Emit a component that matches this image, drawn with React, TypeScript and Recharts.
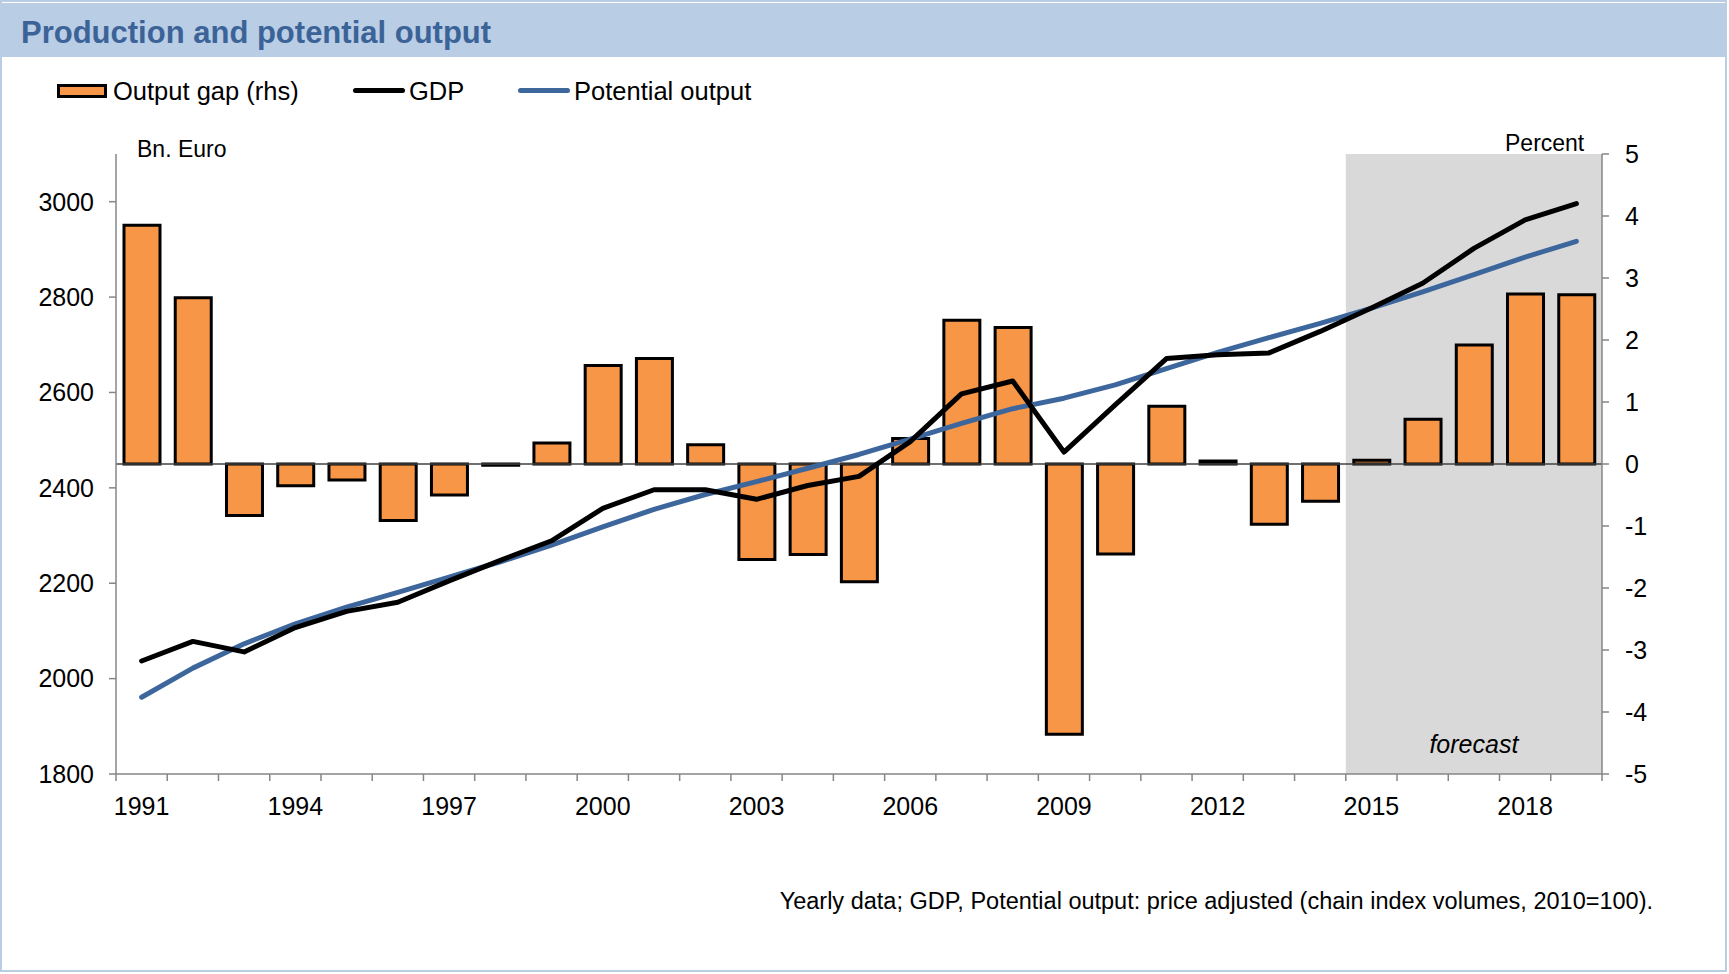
import React from "react";
import {
  Bar,
  ComposedChart,
  Label,
  Line,
  ReferenceArea,
  ReferenceLine,
  XAxis,
  YAxis,
} from "recharts";

// categories
const years = [
  "1991", "1992", "1993", "1994", "1995", "1996", "1997", "1998", "1999", "2000",
  "2001", "2002", "2003", "2004", "2005", "2006", "2007", "2008", "2009", "2010",
  "2011", "2012", "2013", "2014", "2015", "2016", "2017", "2018", "2019",
];
const labelYears = ["1991", "1994", "1997", "2000", "2003", "2006", "2009", "2012", "2015", "2018"];

// output gap, percent (rhs)
const outputGap = [
  3.85, 2.68, -0.83, -0.35, -0.26, -0.91, -0.5, -0.02, 0.34, 1.59,
  1.7, 0.31, -1.54, -1.46, -1.9, 0.41, 2.32, 2.2, -4.36, -1.45,
  0.93, 0.05, -0.97, -0.6, 0.06, 0.72, 1.92, 2.74, 2.73,
];
// GDP, bn euro
const gdp = [
  2037, 2078, 2056, 2107, 2141, 2160, 2205, 2248, 2289, 2357,
  2396, 2396, 2376, 2405, 2424, 2497, 2597, 2624, 2475, 2574,
  2671, 2679, 2683, 2728, 2777, 2829, 2902, 2962, 2996,
];
// potential output, bn euro
const potential = [
  1961, 2022, 2073, 2115, 2150, 2181, 2213, 2245, 2280, 2318,
  2355, 2386, 2413, 2441, 2470, 2502, 2535, 2566, 2588, 2616,
  2650, 2684, 2715, 2745, 2777, 2811, 2847, 2884, 2917,
];

const leftTicks = [1800, 2000, 2200, 2400, 2600, 2800, 3000];
const rightTicks = [-5, -4, -3, -2, -1, 0, 1, 2, 3, 4, 5];
const forecastFrom = "2015";
const forecastTo = "2019";

const names = {
  gap: "Output gap (rhs)",
  gdp: "GDP",
  potential: "Potential output",
};

const data = years.map((year, i) => ({
  year,
  gap: outputGap[i],
  gdp: gdp[i],
  potential: potential[i],
}));

const W = 1729;
const H = 974;
const PLOT_LEFT = 116;
const PLOT_RIGHT = 1602;
const PLOT_TOP = 154;
const PLOT_BOTTOM = 774;
const AXIS_W = 100;
const XAXIS_H = 60;
const TICK_SIZE = 7;
const X_TICK_MARGIN = 16;

const FONT = '"Liberation Sans", Arial, sans-serif';
const ORANGE = "#f79646";
const BLUE = "#3d679c";
const AXIS_GREY = "#868686";

function YearTick(props: any) {
  const { x, y, payload, index } = props;
  const bw = (PLOT_RIGHT - PLOT_LEFT) / years.length;
  const axisY = y - TICK_SIZE - X_TICK_MARGIN;
  const isLast = index === years.length - 1;
  return (
    <g>
      <line x1={x - bw / 2} x2={x - bw / 2} y1={axisY} y2={axisY + TICK_SIZE} stroke={AXIS_GREY} strokeWidth={1.5} />
      {isLast && (
        <line x1={x + bw / 2} x2={x + bw / 2} y1={axisY} y2={axisY + TICK_SIZE} stroke={AXIS_GREY} strokeWidth={1.5} />
      )}
      {labelYears.includes(payload.value) && (
        <text x={x} y={y} dy="0.71em" textAnchor="middle" fontSize={25} fill="#000" fontFamily={FONT}>
          {payload.value}
        </text>
      )}
    </g>
  );
}

export default function App() {
  return (
    <div
      style={{
        position: "absolute",
        left: 0,
        top: 0,
        width: W,
        height: H,
        background: "#fff",
        fontFamily: FONT,
        overflow: "hidden",
      }}
    >
      <div
        style={{
          position: "absolute",
          left: 0,
          top: 0,
          width: 1727,
          height: 972,
          border: "2px solid #b9cde5",
          boxSizing: "border-box",
        }}
      />
      <div
        style={{
          position: "absolute",
          left: 0,
          top: 3,
          width: 1727,
          height: 54,
          background: "#b9cde5",
        }}
      />
      <div
        style={{
          position: "absolute",
          left: 21,
          top: 14,
          fontSize: 31,
          fontWeight: "bold",
          color: "#3b6398",
          lineHeight: "38px",
        }}
      >
        Production and potential output
      </div>

      {/* legend */}
      <div style={{ position: "absolute", left: 57, top: 84, width: 50, height: 14, background: ORANGE, border: "3px solid #000", boxSizing: "border-box" }} />
      <div style={{ position: "absolute", left: 113, top: 76, fontSize: 25.5, lineHeight: "30px" }}>{names.gap}</div>
      <div style={{ position: "absolute", left: 353, top: 88, width: 52, height: 5, background: "#000", borderRadius: 3 }} />
      <div style={{ position: "absolute", left: 409, top: 76, fontSize: 25.5, lineHeight: "30px" }}>{names.gdp}</div>
      <div style={{ position: "absolute", left: 518, top: 88, width: 52, height: 5, background: BLUE, borderRadius: 3 }} />
      <div style={{ position: "absolute", left: 574, top: 76, fontSize: 25.5, lineHeight: "30px" }}>{names.potential}</div>

      <div style={{ position: "absolute", left: 137, top: 136, fontSize: 23, lineHeight: "26px" }}>Bn. Euro</div>
      <div style={{ position: "absolute", left: 1505, top: 130, fontSize: 23, lineHeight: "26px" }}>Percent</div>

      <div style={{ position: "absolute", left: 0, top: 0 }}>
        <ComposedChart
          width={W}
          height={H}
          data={data}
          margin={{
            top: PLOT_TOP,
            right: W - PLOT_RIGHT - AXIS_W,
            bottom: H - PLOT_BOTTOM - XAXIS_H,
            left: PLOT_LEFT - AXIS_W,
          }}
          style={{ fontFamily: FONT }}
        >
          <ReferenceArea
            x1={forecastFrom}
            x2={forecastTo}
            yAxisId="right"
            fill="#d9d9d9"
            fillOpacity={1}
            stroke="none"
          >
            <Label
              value="forecast"
              position="insideBottom"
              offset={21}
              fontSize={25}
              fontStyle="italic"
              fill="#000"
              fontFamily={FONT}
            />
          </ReferenceArea>
          <XAxis
            dataKey="year"
            interval={0}
            height={XAXIS_H}
            tickLine={false}
            tickSize={TICK_SIZE}
            tickMargin={X_TICK_MARGIN}
            axisLine={{ stroke: AXIS_GREY, strokeWidth: 1.5 }}
            tick={<YearTick />}
          />
          <YAxis
            yAxisId="left"
            orientation="left"
            width={AXIS_W}
            domain={[1800, 3100]}
            ticks={leftTicks}
            interval={0}
            allowDataOverflow
            tickSize={TICK_SIZE}
            tickMargin={15}
            axisLine={{ stroke: AXIS_GREY, strokeWidth: 1.5 }}
            tickLine={{ stroke: AXIS_GREY, strokeWidth: 1.5 }}
            tick={{ fill: "#000", fontSize: 25, fontFamily: FONT }}
          />
          <YAxis
            yAxisId="right"
            orientation="right"
            width={AXIS_W}
            domain={[-5, 5]}
            ticks={rightTicks}
            interval={0}
            allowDataOverflow
            tickSize={TICK_SIZE}
            tickMargin={16}
            axisLine={{ stroke: AXIS_GREY, strokeWidth: 1.5 }}
            tickLine={{ stroke: AXIS_GREY, strokeWidth: 1.5 }}
            tick={{ fill: "#000", fontSize: 25, fontFamily: FONT }}
          />
          <ReferenceLine y={0} yAxisId="right" stroke="#404040" strokeWidth={1.5} />
          <Bar
            dataKey="gap"
            name={names.gap}
            yAxisId="right"
            fill={ORANGE}
            stroke="#000"
            strokeWidth={3}
            barSize={36}
            isAnimationActive={false}
          />
          <Line
            dataKey="potential"
            name={names.potential}
            yAxisId="left"
            type="linear"
            stroke={BLUE}
            strokeWidth={5}
            strokeLinecap="round"
            strokeLinejoin="round"
            dot={false}
            activeDot={false}
            isAnimationActive={false}
          />
          <Line
            dataKey="gdp"
            name={names.gdp}
            yAxisId="left"
            type="linear"
            stroke="#000"
            strokeWidth={5}
            strokeLinecap="round"
            strokeLinejoin="round"
            dot={false}
            activeDot={false}
            isAnimationActive={false}
          />
        </ComposedChart>
      </div>

      <div
        style={{
          position: "absolute",
          right: 76,
          top: 887,
          fontSize: 23.5,
          lineHeight: "28px",
          whiteSpace: "nowrap",
        }}
      >
        Yearly data; GDP, Potential output: price adjusted (chain index volumes, 2010=100).
      </div>
    </div>
  );
}
